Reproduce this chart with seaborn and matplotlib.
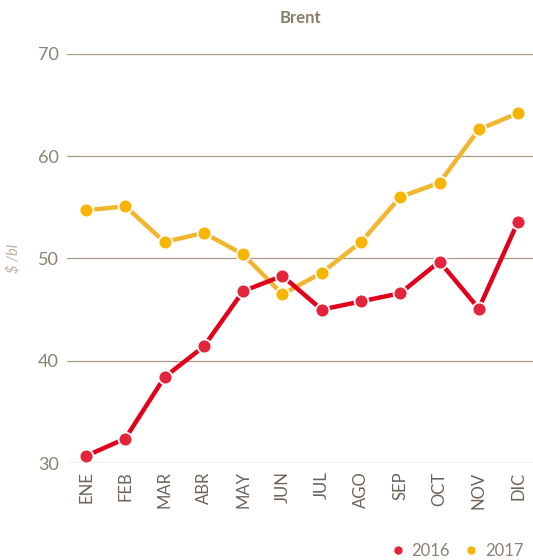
import numpy as np
import pandas as pd
import matplotlib
matplotlib.use('Agg')
import matplotlib.pyplot as plt
import seaborn as sns
from matplotlib.lines import Line2D

months = ['ENE', 'FEB', 'MAR', 'ABR', 'MAY', 'JUN', 'JUL', 'AGO', 'SEP', 'OCT', 'NOV', 'DIC']
brent_2016 = [30.7, 32.4, 38.4, 41.4, 46.8, 48.3, 45.0, 45.8, 46.6, 49.7, 45.1, 53.6]
brent_2017 = [54.7, 55.1, 51.6, 52.5, 50.4, 46.5, 48.6, 51.6, 56.0, 57.4, 62.6, 64.2]
years = ['2016', '2017']
yticks = [30, 40, 50, 60, 70]

df = pd.DataFrame({'Mes': months * 2,
                   'Precio': brent_2016 + brent_2017,
                   'Año': [years[0]] * 12 + [years[1]] * 12})

sns.set_style('white')
plt.rcParams['font.family'] = ['Lato', 'DejaVu Sans']

text_col = '#8c8070'
grid_col = '#a89a86'
red_line, red_pt = '#e2001a', '#e4243a'
org_line, org_pt = '#f2b530', '#f7b500'

fig = plt.figure(figsize=(5.33, 5.6), dpi=100)
ax = fig.add_axes([0.126, 0.173, 0.874, 0.731])

df['x'] = df['Mes'].map({m: i for i, m in enumerate(months)})
for yr, lc, pc, z in [('2017', org_line, org_pt, 3), ('2016', red_line, red_pt, 4)]:
    sub = df[df['Año'] == yr]
    sns.lineplot(data=sub, x='x', y='Precio', ax=ax, color=lc, linewidth=3.2,
                 zorder=z, legend=False)
    ax.plot(sub['x'], sub['Precio'], linestyle='none', marker='o', markersize=10,
            markerfacecolor=pc, markeredgecolor='white', markeredgewidth=1.3,
            zorder=z + 2, clip_on=False)

ax.set_xlim(-0.48, 11.38)
ax.set_ylim(30, 70)
ax.set_yticks(yticks)
ax.set_xticks(range(len(months)))
ax.set_xticklabels(months, rotation=90, color='#6e6258', fontsize=12)
ax.tick_params(axis='y', colors=text_col, labelsize=13, length=0, pad=6)
ax.tick_params(axis='x', length=0, pad=6)
for t in ax.get_yticklabels():
    t.set_color(text_col)
for y in yticks:
    ax.axhline(y, color=grid_col, linewidth=0.9, zorder=1)
for s in ax.spines.values():
    s.set_visible(False)

ax.set_xlabel('')
ax.set_ylabel('$ /bl', color='#b8ad9e', fontsize=10.5, style='italic', labelpad=12)
ax.set_title('Brent', color='#8a7d6c', fontsize=12, fontweight='bold', pad=22)

handles = [Line2D([], [], linestyle='none', marker='o', markersize=5,
                  markerfacecolor=c, markeredgecolor=c) for c in (red_pt, org_pt)]
fig.legend(handles, years, loc='lower right', bbox_to_anchor=(1.01, -0.025), ncol=2,
           frameon=False, labelcolor=text_col, handletextpad=0.3,
           columnspacing=0.8, handlelength=1.0, prop={'size': 12})

fig.savefig('out.png', dpi=100)
